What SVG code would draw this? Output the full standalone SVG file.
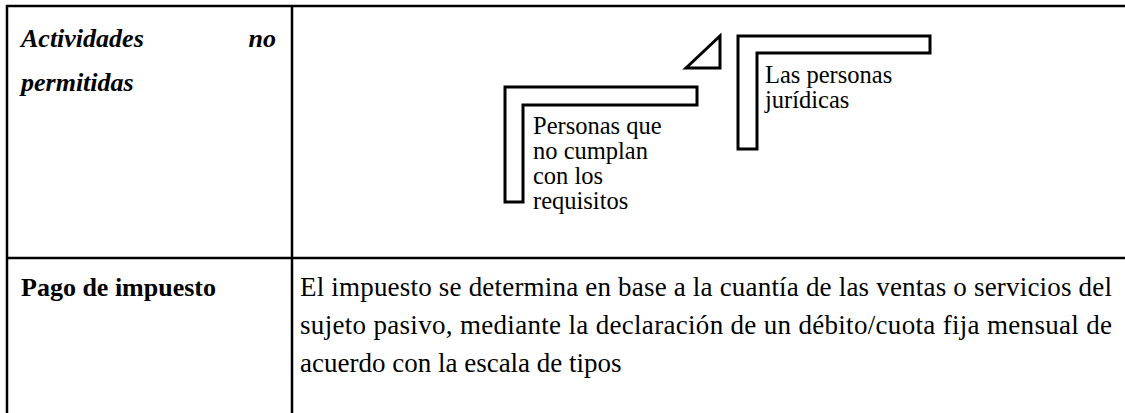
<svg xmlns="http://www.w3.org/2000/svg" width="1125" height="413" viewBox="0 0 1125 413">
<style>
.grid{stroke:#000;stroke-width:2.5;fill:none}
.shape{stroke:#000;stroke-width:3;fill:#fff;stroke-linejoin:miter}
text{fill:#000}
.hd{font-weight:bold;font-size:26px}
.it{font-style:italic}
.body{font-size:27px}
.co{font-size:24.5px}
</style>
<rect width="1125" height="413" fill="#fff"/>
<g font-family="Liberation Serif, Times New Roman, serif">
<g id="table">
<line class="grid" x1="6" y1="6" x2="1125" y2="6"/>
<line class="grid" x1="7" y1="5" x2="7" y2="413"/>
<line class="grid" x1="292" y1="5" x2="292" y2="413"/>
<line class="grid" x1="6" y1="258" x2="1125" y2="258"/>
</g>
<g id="label-actividades">
<text class="hd it" x="21" y="47">Actividades</text>
<text class="hd it" x="276" y="47" text-anchor="end">no</text>
<text class="hd it" x="21" y="91">permitidas</text>
</g>
<g id="callout-personas">
<polygon class="shape" points="505,87 697,87 697,105 523,105 523,202 505,202"/>
<text class="co" x="533" y="134">Personas que</text>
<text class="co" x="533" y="159">no cumplan</text>
<text class="co" x="533" y="184">con los</text>
<text class="co" x="533" y="209">requisitos</text>
</g>
<g id="callout-juridicas">
<polygon class="shape" points="686,68 720,36 720,68"/>
<polygon class="shape" points="738,36 930,36 930,53 757,53 757,149 738,149"/>
<text class="co" x="765" y="83">Las personas</text>
<text class="co" x="765" y="108">jurídicas</text>
</g>
<g id="label-pago">
<text class="hd" x="21" y="296">Pago de impuesto</text>
</g>
<g id="desc-pago">
<text class="body" x="300" y="296" textLength="812" lengthAdjust="spacing">El impuesto se determina en base a la cuantía de las ventas o servicios del</text>
<text class="body" x="300" y="334" textLength="812" lengthAdjust="spacing">sujeto pasivo, mediante la declaración de un débito/cuota fija mensual de</text>
<text class="body" x="300" y="372">acuerdo con la escala de tipos</text>
</g>
</g>
</svg>
